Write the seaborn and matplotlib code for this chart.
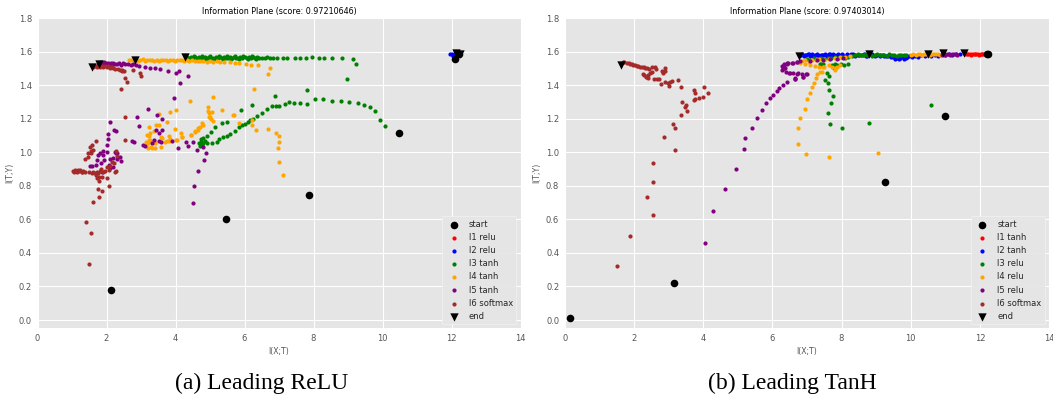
import matplotlib
matplotlib.use("Agg")
import matplotlib.pyplot as plt
import seaborn as sns

# ---------------- shared ----------------
LAYER_COLORS = ["red", "blue", "green", "orange", "purple", "brown"]

# ---------------- (a) Leading ReLU ----------------
RELU_TITLE = "Information Plane (score: 0.97210646)"
RELU_CAPTION = "(a) Leading ReLU"
RELU_LABELS = ["l1 relu", "l2 relu", "l3 tanh", "l4 tanh", "l5 tanh", "l6 softmax"]

relu_start_x = [12.22, 12.09, 10.47, 7.86, 5.45, 2.13]
relu_start_y = [1.586, 1.559, 1.112, 0.748, 0.603, 0.181]
relu_end_x = [12.24, 12.12, 4.27, 2.84, 1.78, 1.59]
relu_end_y = [1.588, 1.590, 1.569, 1.550, 1.527, 1.510]

relu_l1_x = [12.15, 12.18, 12.20, 12.23, 12.25]
relu_l1_y = [1.586, 1.588, 1.585, 1.587, 1.589]

relu_l2_x = [11.97, 12.00, 12.03, 12.05, 12.08, 12.10, 12.12]
relu_l2_y = [1.583, 1.584, 1.580, 1.576, 1.572, 1.578, 1.582]

relu_l3_x = [
    4.32, 4.38, 4.45, 4.50, 4.56, 4.62, 4.68, 4.74, 4.80, 4.86, 4.92, 4.98, 5.04, 5.10,
    5.16, 5.22, 5.28, 5.34, 5.40, 5.46, 5.52, 5.58, 5.64, 5.70, 5.76, 5.82, 5.88, 5.94,
    6.00, 6.06, 6.12, 6.18, 6.24, 6.30, 6.36, 6.42, 6.50, 6.58, 6.66, 6.75, 6.84, 6.93,
    7.12, 7.23, 7.46, 7.61, 7.78, 7.95, 8.15, 8.31, 8.55, 8.83, 9.14, 9.24, 8.96,
    4.41, 4.53, 4.65, 4.77, 4.89, 5.01, 5.13, 5.25, 5.37, 5.49, 5.61, 5.73, 5.85, 5.97,
    6.09, 6.21, 6.33,
    5.89, 6.21, 6.88, 7.82,
    6.24, 6.37, 6.52, 6.66, 6.80, 6.91, 7.00, 7.17, 7.30, 7.43, 7.61, 7.81, 8.05, 8.28,
    8.54, 8.79, 9.04, 9.28, 9.46, 9.64, 9.79, 9.93, 10.07,
    4.69, 4.73, 4.77, 4.81, 4.71, 4.85, 4.74,
    4.90, 5.05, 5.19, 5.27, 5.39, 5.48, 5.58, 5.72, 5.84, 5.93, 6.02, 6.10, 6.17,
    4.81, 4.90, 5.02, 5.15, 5.35, 5.50,
]
relu_l3_y = [
    1.566, 1.561, 1.569, 1.563, 1.567, 1.560, 1.570, 1.564, 1.562, 1.568, 1.561, 1.571, 1.565, 1.562,
    1.569, 1.563, 1.567, 1.560, 1.571, 1.564, 1.562, 1.568, 1.563, 1.570, 1.565, 1.561, 1.569, 1.563,
    1.567, 1.562, 1.570, 1.564, 1.566, 1.562, 1.568, 1.564, 1.565, 1.562, 1.566, 1.564, 1.563, 1.565,
    1.563, 1.565, 1.562, 1.564, 1.563, 1.566, 1.565, 1.563, 1.564, 1.562, 1.554, 1.525, 1.439,
    1.557, 1.573, 1.558, 1.574, 1.556, 1.572, 1.557, 1.573, 1.558, 1.574, 1.556, 1.572, 1.558, 1.573,
    1.557, 1.572, 1.558,
    1.250, 1.280, 1.337, 1.373,
    1.197, 1.215, 1.236, 1.256, 1.276, 1.278, 1.276, 1.288, 1.300, 1.296, 1.296, 1.290, 1.316, 1.316,
    1.308, 1.304, 1.298, 1.292, 1.284, 1.272, 1.248, 1.193, 1.157,
    1.054, 1.064, 1.044, 1.058, 1.038, 1.070, 1.078,
    1.054, 1.054, 1.060, 1.078, 1.090, 1.100, 1.109, 1.129, 1.153, 1.160, 1.170, 1.180, 1.190,
    1.084, 1.100, 1.121, 1.149, 1.173, 1.180,
]

relu_l4_x = [
    2.65, 2.72, 2.80, 2.90, 2.97, 3.05, 3.12, 3.18, 3.25, 3.32, 3.38, 3.45, 3.52, 3.58,
    3.65, 3.72, 3.78, 3.85, 3.92, 3.98, 4.05, 4.12, 4.18, 4.25, 4.32, 4.40, 4.48, 4.56,
    4.64, 4.72, 4.80, 4.90, 5.00, 5.10, 5.20, 5.30, 5.42, 5.58, 5.72, 5.85, 6.04, 6.19, 6.40,
    7.12, 6.99, 6.98, 6.99, 6.99, 6.90, 6.69, 6.33, 6.23, 6.23, 5.84, 5.69, 5.35, 5.08,
    5.05, 4.93, 4.93, 4.97, 5.02, 5.10, 4.76, 4.71, 4.64, 4.56, 4.46, 4.43, 4.00, 3.83,
    4.20, 4.02, 3.81, 3.81, 3.53, 3.43, 3.58, 3.22, 3.22, 3.24, 3.21, 3.21, 3.29, 3.41,
    3.38, 3.41, 3.71, 3.83, 4.64, 6.28, 6.74, 6.69,
    3.53, 3.76, 3.99, 4.15, 4.18, 4.44, 4.57, 4.79, 5.00, 4.98, 5.68, 3.18, 3.26, 3.18,
    3.31, 3.57, 3.74, 3.60, 4.03, 3.26, 3.14,
]
relu_l4_y = [
    1.552, 1.548, 1.553, 1.547, 1.551, 1.554, 1.546, 1.552, 1.549, 1.553, 1.547, 1.551, 1.545, 1.553,
    1.548, 1.551, 1.546, 1.553, 1.549, 1.547, 1.552, 1.548, 1.553, 1.546, 1.550, 1.544, 1.549, 1.543,
    1.547, 1.542, 1.546, 1.541, 1.545, 1.540, 1.543, 1.539, 1.541, 1.538, 1.534, 1.531, 1.527, 1.521, 1.519,
    0.867, 0.943, 1.024, 1.064, 1.098, 1.116, 1.136, 1.130, 1.163, 1.190, 1.173, 1.223, 1.253, 1.327,
    1.243, 1.269, 1.247, 1.213, 1.199, 1.187, 1.173, 1.153, 1.144, 1.124, 1.104, 1.303, 1.253, 1.239,
    1.090, 1.074, 1.068, 1.100, 1.163, 1.163, 1.094, 1.149, 1.098, 1.074, 1.054, 1.024, 1.034, 1.024,
    1.124, 1.058, 1.064, 1.078, 1.134, 1.376, 1.502, 1.468,
    1.228, 1.179, 1.137, 1.113, 1.093, 1.103, 1.119, 1.163, 1.212, 1.232, 1.222, 1.103, 1.073, 1.054,
    1.024, 1.034, 1.069, 1.083, 1.073, 1.113, 1.063,
]

relu_l5_x = [
    1.74, 1.78, 1.80, 1.83, 1.85, 1.88, 1.90, 1.93, 1.95, 1.98, 2.00, 2.04, 2.08, 2.12,
    2.16, 2.20, 2.25, 2.30, 2.36, 2.42, 2.48, 2.55, 2.62, 2.70, 2.78, 2.86, 2.95, 3.12,
    3.26, 3.41, 3.55, 3.77, 4.01, 4.10, 4.35, 4.14, 3.97,
    3.19, 2.88, 3.45, 3.62, 2.95, 2.10, 2.22, 2.27, 2.05, 2.05, 2.00, 2.75, 2.80, 3.05,
    3.12, 3.31, 3.39, 3.53, 3.58, 3.53, 3.60, 3.43, 3.91, 4.08, 4.29, 4.35, 4.52, 4.63,
    4.81, 4.88, 4.83, 4.64, 4.54, 4.50, 1.76, 1.81, 1.89, 1.91, 2.00, 1.72, 1.83, 1.52,
    1.57, 1.70, 1.93, 2.10, 2.20, 2.30, 2.28, 2.39, 2.41, 2.30, 2.25, 1.86, 2.10, 2.20, 2.06,
]
relu_l5_y = [
    1.528, 1.535, 1.522, 1.538, 1.527, 1.533, 1.520, 1.536, 1.526, 1.532, 1.524, 1.535, 1.527, 1.531,
    1.523, 1.534, 1.528, 1.525, 1.532, 1.522, 1.530, 1.524, 1.528, 1.520, 1.524, 1.518, 1.515, 1.511,
    1.503, 1.501, 1.498, 1.487, 1.475, 1.485, 1.457, 1.415, 1.322,
    1.258, 1.212, 1.222, 1.197, 1.157, 1.183, 1.133, 1.127, 1.107, 1.078, 1.043, 1.069, 1.063, 1.043,
    1.038, 1.054, 1.073, 1.069, 1.063, 1.113, 1.133, 1.133, 1.067, 1.024, 1.060, 1.038, 1.060, 1.014,
    1.030, 0.998, 0.954, 0.890, 0.799, 0.696, 0.984, 0.994, 1.010, 0.984, 1.004, 0.954, 0.934, 0.920,
    0.918, 0.924, 0.954, 0.958, 0.964, 0.958, 0.994, 0.974, 0.950, 0.998, 1.004, 0.884, 0.904, 0.914, 0.925,
]

relu_l6_x = [
    1.62, 1.72, 1.81, 1.91, 2.00, 2.10, 2.20, 2.34, 2.44, 2.51, 2.78, 2.97, 3.00, 2.54,
    2.59, 2.42, 2.40, 2.45, 2.26, 2.11, 1.68, 1.86, 1.96, 2.05, 2.15,
    1.49, 1.54, 1.41, 1.60, 1.79, 1.87, 1.76, 2.08, 2.02, 1.86, 1.79, 1.72,
    1.02, 1.09, 1.14, 1.19, 1.24, 1.28, 1.33, 1.38, 1.05, 1.16, 1.30, 1.50, 1.57, 1.62,
    1.67, 1.72, 1.76, 1.81, 1.70, 1.79, 1.91, 1.96, 1.83, 2.02, 2.10, 2.22, 2.28, 2.15,
    2.08, 2.25, 1.38, 1.46, 1.54, 1.47, 1.52, 1.59, 1.54, 1.62, 1.69, 2.55, 2.54, 2.28, 2.30,
]
relu_l6_y = [
    1.511, 1.511, 1.507, 1.511, 1.507, 1.503, 1.503, 1.495, 1.491, 1.487, 1.491, 1.471, 1.457, 1.441,
    1.419, 1.378, 1.492, 1.482, 1.498, 1.506, 1.515, 1.514, 1.516, 1.512, 1.508,
    0.334, 0.517, 0.583, 0.705, 0.732, 0.767, 0.779, 0.799, 0.845, 0.851, 0.831, 0.845,
    0.889, 0.895, 0.885, 0.889, 0.895, 0.885, 0.889, 0.885, 0.882, 0.895, 0.882, 0.885, 0.878, 0.882,
    0.874, 0.885, 0.878, 0.889, 0.864, 0.855, 0.885, 0.889, 0.898, 0.910, 0.920, 0.934, 0.889, 0.944,
    0.895, 0.885, 0.958, 0.994, 0.998, 0.974, 1.030, 1.043, 1.010, 1.014, 1.067, 1.073, 1.212, 1.008, 0.978,
]

# ---------------- (b) Leading TanH ----------------
TANH_TITLE = "Information Plane (score: 0.97403014)"
TANH_CAPTION = "(b) Leading TanH"
TANH_LABELS = ["l1 tanh", "l2 tanh", "l3 relu", "l4 relu", "l5 relu", "l6 softmax"]

tanh_start_x = [12.23, 12.20, 10.98, 9.27, 3.15, 0.14]
tanh_start_y = [1.587, 1.584, 1.219, 0.821, 0.219, 0.012]
tanh_end_x = [11.55, 6.77, 8.80, 10.51, 10.93, 1.63]
tanh_end_y = [1.591, 1.577, 1.587, 1.587, 1.591, 1.521]

tanh_l1_x = [11.58, 11.62, 11.66, 11.70, 11.74, 11.78, 11.82, 11.86, 11.90, 11.94, 11.98,
             12.02, 12.06, 12.10, 12.14, 12.18, 12.21]
tanh_l1_y = [1.585, 1.583, 1.586, 1.584, 1.582, 1.586, 1.583, 1.585, 1.587, 1.584, 1.582,
             1.586, 1.584, 1.587, 1.585, 1.583, 1.586]

tanh_l2_x = [
    6.80, 6.86, 6.92, 6.98, 7.04, 7.10, 7.16, 7.22, 7.28, 7.34, 7.40, 7.46, 7.52, 7.58,
    7.64, 7.70, 7.76, 7.82, 7.88, 7.94,
    8.00, 8.08, 8.16, 8.24, 8.32, 8.40, 8.48, 8.56, 8.64, 8.72, 8.80, 8.88, 8.96, 9.04,
    9.12, 9.20, 9.28, 9.36, 9.44,
    9.50, 9.55, 9.60, 9.65, 9.70, 9.75, 9.80, 9.85, 9.90,
    9.96, 10.04, 10.12, 10.20,
    10.30, 10.40, 10.50, 10.60, 10.70, 10.80, 10.90, 11.00, 11.10, 11.20, 11.30, 11.42,
    6.83, 6.95, 7.07, 7.19, 7.31, 7.43, 7.55, 7.67, 7.79, 7.91, 8.03, 8.15, 8.27, 8.39,
    8.51, 8.63, 8.75, 8.87, 8.99, 9.11, 9.23, 9.35,
]
tanh_l2_y = [
    1.578, 1.584, 1.575, 1.582, 1.586, 1.577, 1.583, 1.579, 1.585, 1.576, 1.582, 1.580, 1.586, 1.577,
    1.583, 1.579, 1.585, 1.576, 1.582, 1.580,
    1.584, 1.577, 1.583, 1.579, 1.585, 1.576, 1.582, 1.578, 1.584, 1.577, 1.583, 1.579, 1.574, 1.580,
    1.576, 1.582, 1.572, 1.578, 1.569,
    1.566, 1.558, 1.564, 1.555, 1.562, 1.567, 1.556, 1.563, 1.568,
    1.572, 1.566, 1.575, 1.570,
    1.578, 1.573, 1.580, 1.575, 1.582, 1.577, 1.583, 1.579, 1.584, 1.580, 1.585, 1.583,
    1.581, 1.579, 1.584, 1.577, 1.582, 1.580, 1.578, 1.585, 1.579, 1.583, 1.577, 1.581, 1.584, 1.578,
    1.582, 1.580, 1.576, 1.583, 1.579, 1.581, 1.577, 1.575,
]

tanh_l3_x = [
    8.40, 8.47, 8.54, 8.61, 8.68, 8.75, 8.82, 8.89, 8.96, 9.03, 9.10, 9.17, 9.24, 9.31,
    9.38, 9.45, 9.52, 9.59, 9.66, 9.73, 9.80, 9.87,
    7.00, 7.10, 7.20, 7.30, 7.40, 7.50, 7.60, 7.70, 7.80, 7.90, 8.00, 8.10, 8.20, 8.30,
    7.41, 7.57, 7.65, 7.52, 7.60, 7.65, 7.75, 7.70, 7.61, 7.67, 8.02, 8.79, 10.59, 7.73,
    7.80, 7.88, 7.98, 8.07, 8.19, 7.84, 7.77, 7.37, 7.47,
]
tanh_l3_y = [
    1.580, 1.584, 1.578, 1.582, 1.585, 1.579, 1.583, 1.577, 1.581, 1.584, 1.578, 1.582, 1.580, 1.576,
    1.583, 1.579, 1.581, 1.577, 1.582, 1.579, 1.581, 1.578,
    1.558, 1.552, 1.561, 1.556, 1.563, 1.558, 1.565, 1.560, 1.567, 1.562, 1.569, 1.565, 1.571, 1.574,
    1.527, 1.475, 1.455, 1.431, 1.415, 1.372, 1.336, 1.296, 1.236, 1.171, 1.145, 1.175, 1.280, 1.521,
    1.527, 1.521, 1.527, 1.521, 1.527, 1.511, 1.501, 1.524, 1.524,
]

tanh_l4_x = [
    10.02, 10.08, 10.14, 10.20, 10.26, 10.32, 10.38, 10.44, 10.50, 10.56, 10.62, 10.68, 10.74,
    10.80, 10.86,
    6.85, 6.95, 7.05, 7.15, 7.25, 7.35, 7.50, 7.65, 7.80, 7.95, 8.10, 8.25,
    6.75, 6.75, 6.80, 6.95, 6.99, 7.09, 7.14, 7.21, 7.26, 7.30, 7.38, 7.45, 7.50, 7.64,
    7.73, 7.80, 7.88, 7.95, 7.82, 6.80, 6.95, 7.09, 7.24, 7.36, 7.47, 6.97, 7.63, 9.06,
]
tanh_l4_y = [
    1.582, 1.585, 1.581, 1.584, 1.586, 1.582, 1.585, 1.583, 1.586, 1.582, 1.584, 1.586, 1.583,
    1.585, 1.582,
    1.545, 1.550, 1.540, 1.552, 1.548, 1.556, 1.550, 1.558, 1.562, 1.566, 1.570, 1.574,
    1.050, 1.143, 1.206, 1.256, 1.316, 1.352, 1.391, 1.415, 1.441, 1.467, 1.477, 1.480, 1.511, 1.521,
    1.511, 1.501, 1.511, 1.521, 1.491, 1.531, 1.527, 1.521, 1.515, 1.507, 1.507, 0.990, 0.974, 0.998,
]

tanh_l5_x = [
    10.90, 10.95, 11.00, 11.05, 11.10, 11.15, 11.20, 11.25, 11.30, 11.35,
    4.05, 4.29, 4.63, 4.94, 5.18, 5.21, 5.40, 5.55, 5.70, 5.81, 5.93, 6.01, 6.14, 6.20,
    6.32, 6.42, 6.66, 6.88, 6.85, 6.73, 6.61, 6.51, 6.39, 6.32, 6.29, 6.34, 6.43, 6.59,
    6.71, 6.80, 6.27, 6.32, 6.37, 6.34, 6.42, 6.46, 6.49, 6.72, 6.97, 6.66, 6.90, 6.56,
    6.70, 7.09, 7.28, 7.47, 7.67, 7.86, 8.05, 6.65, 7.00,
]
tanh_l5_y = [
    1.582, 1.584, 1.581, 1.585, 1.583, 1.582, 1.585, 1.583, 1.584, 1.582,
    0.459, 0.648, 0.781, 0.902, 1.020, 1.083, 1.145, 1.207, 1.252, 1.292, 1.322, 1.344, 1.366, 1.381,
    1.399, 1.421, 1.437, 1.451, 1.465, 1.471, 1.471, 1.475, 1.481, 1.495, 1.515, 1.527, 1.534, 1.534,
    1.541, 1.545, 1.491, 1.511, 1.501, 1.521, 1.527, 1.530, 1.471, 1.467, 1.467, 1.441, 1.451, 1.534,
    1.540, 1.546, 1.550, 1.552, 1.556, 1.558, 1.562, 1.438, 1.468,
]

tanh_l6_x = [
    1.68, 1.79, 1.89, 1.98, 2.08, 2.18, 2.29, 2.39, 2.51, 2.61, 2.64, 2.51, 2.47, 2.35,
    2.29, 2.40, 2.25, 2.42, 2.58, 2.68, 2.77, 2.73, 2.80, 2.90, 2.91, 2.83, 2.90, 2.98,
    3.04, 3.01, 3.09, 3.28, 3.37, 3.75, 3.77, 4.03, 4.14, 3.99, 3.89, 3.77, 3.74, 3.39,
    3.51, 3.47, 3.54, 3.35, 3.12, 3.20, 2.88, 3.20, 2.54, 2.56, 2.38, 2.54, 1.90, 1.50,
    1.72, 1.85, 1.95, 2.02, 2.12, 2.22, 2.33, 2.45,
]
tanh_l6_y = [
    1.540, 1.534, 1.527, 1.523, 1.517, 1.511, 1.507, 1.500, 1.507, 1.511, 1.494, 1.481, 1.471, 1.451,
    1.463, 1.463, 1.465, 1.441, 1.435, 1.439, 1.405, 1.435, 1.487, 1.500, 1.485, 1.475, 1.421, 1.411,
    1.417, 1.395, 1.427, 1.431, 1.387, 1.372, 1.356, 1.389, 1.356, 1.332, 1.322, 1.316, 1.312, 1.298,
    1.282, 1.272, 1.248, 1.222, 1.168, 1.143, 1.093, 1.014, 0.938, 0.821, 0.736, 0.626, 0.503, 0.324,
    1.537, 1.530, 1.525, 1.520, 1.515, 1.509, 1.503, 1.497,
]

RELU_LAYERS = [(relu_l1_x, relu_l1_y), (relu_l2_x, relu_l2_y), (relu_l3_x, relu_l3_y),
               (relu_l4_x, relu_l4_y), (relu_l5_x, relu_l5_y), (relu_l6_x, relu_l6_y)]
TANH_LAYERS = [(tanh_l1_x, tanh_l1_y), (tanh_l2_x, tanh_l2_y), (tanh_l3_x, tanh_l3_y),
               (tanh_l4_x, tanh_l4_y), (tanh_l5_x, tanh_l5_y), (tanh_l6_x, tanh_l6_y)]

X_TICKS = [0, 2, 4, 6, 8, 10, 12, 14]
Y_TICKS = [0.0, 0.2, 0.4, 0.6, 0.8, 1.0, 1.2, 1.4, 1.6, 1.8]

# ggplot-like look
sns.set_theme(style="darkgrid", rc={
    "axes.facecolor": "#E5E5E5",
    "grid.color": "white",
    "grid.linewidth": 0.8,
    "axes.edgecolor": "white",
    "xtick.color": "#555555",
    "ytick.color": "#555555",
    "axes.labelcolor": "#555555",
})
plt.rcParams["font.family"] = ["DejaVu Sans"]

fig = plt.figure(figsize=(10.53, 4.0), dpi=100)
ax_relu = fig.add_axes([37.5 / 1053, 71.6 / 400, 483.0 / 1053, 310.3 / 400])
ax_tanh = fig.add_axes([564.7 / 1053, 71.6 / 400, 484.4 / 1053, 310.3 / 400])


def draw_panel(ax, title, labels, layers, start, end):
    sns.scatterplot(x=start[0], y=start[1], color="black", marker="o", s=30,
                    linewidth=0, label="start", ax=ax, zorder=3)
    for lab, col, (xs, ys) in zip(labels, LAYER_COLORS, layers):
        sns.scatterplot(x=xs, y=ys, color=col, marker="o", s=9, linewidth=0,
                        label=lab, ax=ax, zorder=2)
    sns.scatterplot(x=end[0], y=end[1], color="black", marker="v", s=36,
                    linewidth=0, label="end", ax=ax, zorder=4)
    ax.set_xlim(0, 14)
    ax.set_ylim(-0.05, 1.8)
    ax.set_xticks(X_TICKS)
    ax.set_yticks(Y_TICKS)
    ax.set_xticklabels([str(t) for t in X_TICKS])
    ax.set_yticklabels([f"{t:.1f}" for t in Y_TICKS])
    ax.tick_params(labelsize=6, length=2, width=0.6, pad=2, colors="#555555")
    ax.set_title(title, fontsize=5.8, color="black", pad=3)
    ax.set_xlabel("I(X;T)", fontsize=5.6, labelpad=3)
    ax.set_ylabel("I(T;Y)", fontsize=5.6, labelpad=3)
    leg = ax.legend(loc="lower right", fontsize=6, frameon=True, facecolor="#E5E5E5",
                    edgecolor="#F2F2F2", framealpha=0.9, labelspacing=0.5,
                    borderpad=0.4, handletextpad=0.8)
    leg.get_frame().set_linewidth(0.6)
    for side in ax.spines.values():
        side.set_visible(False)


draw_panel(ax_relu, RELU_TITLE, RELU_LABELS, RELU_LAYERS,
           (relu_start_x, relu_start_y), (relu_end_x, relu_end_y))
draw_panel(ax_tanh, TANH_TITLE, TANH_LABELS, TANH_LAYERS,
           (tanh_start_x, tanh_start_y), (tanh_end_x, tanh_end_y))

fig.text(262 / 1053, 1 - 383 / 400, RELU_CAPTION, ha="center", va="center",
         fontsize=17, family="Liberation Serif", color="black")
fig.text(792 / 1053, 1 - 383 / 400, TANH_CAPTION, ha="center", va="center",
         fontsize=17, family="Liberation Serif", color="black")

fig.savefig("out.png", dpi=100, facecolor="white")
